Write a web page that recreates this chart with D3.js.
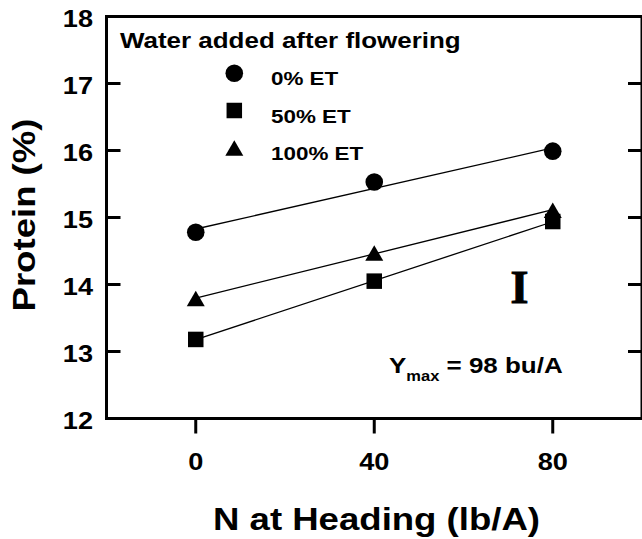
<!DOCTYPE html>
<html>
<head>
<meta charset="utf-8">
<script src="https://cdn.jsdelivr.net/npm/d3@7"></script>
<style>
  html, body { margin: 0; padding: 0; background: #fff; }
  svg { display: block; }
  text { font-family: "Liberation Sans", Arial, sans-serif; font-weight: bold; fill: #000; }
</style>
</head>
<body>
<svg id="chart" width="642" height="539"></svg>
<script>
// ---- data ----
const nRates = [0, 40, 80];
const seriesNames = ["0% ET", "50% ET", "100% ET"];
const protein0 = [14.78, 15.53, 15.99];
const protein50 = [13.18, 14.05, 14.94];
const protein100 = [13.79, 14.47, 15.11];
const xTickValues = [0, 40, 80];
const yTickValues = [12, 13, 14, 15, 16, 17, 18];
const legendTitle = "Water added after flowering";
const xTitle = "N at Heading (lb/A)";
const yTitle = "Protein (%)";
const ymaxLabel = ["Y", "max", " = 98 bu/A"];
const lsdLabel = "I";

// ---- layout ----
const S = 1.18; // horizontal text stretch
const svg = d3.select("#chart");
const x = d3.scaleLinear().domain([-20, 100]).range([106.5, 642]);
const y = d3.scaleLinear().domain([12, 18]).range([418.5, 16.5]);

const series = [
  { name: seriesNames[0], values: protein0, shape: "circle" },
  { name: seriesNames[1], values: protein50, shape: "square" },
  { name: seriesNames[2], values: protein100, shape: "triangle" }
];

function stretchedText(parent, tx, ty, str, size, anchor, rot) {
  const g = parent.append("g")
    .attr("transform", `translate(${tx},${ty})` + (rot ? ` rotate(${rot})` : "") + ` scale(${S},1)`);
  return g.append("text").attr("x", 0).attr("y", 0)
    .attr("font-size", size).attr("text-anchor", anchor || "start").text(str);
}

function drawMarker(g, shape, cx, cy) {
  if (shape === "circle") {
    g.append("circle").attr("cx", cx).attr("cy", cy).attr("r", 8.8).attr("fill", "#000");
  } else if (shape === "square") {
    const s = 15.5;
    g.append("rect").attr("x", cx - s / 2).attr("y", cy - s / 2).attr("width", s).attr("height", s).attr("fill", "#000");
  } else {
    const w = 18, h = 15.5;
    g.append("path").attr("d", `M${cx},${cy - h / 2}L${cx + w / 2},${cy + h / 2}L${cx - w / 2},${cy + h / 2}Z`).attr("fill", "#000");
  }
}

// ---- frame ----
const frame = svg.append("g").attr("stroke", "#000").attr("stroke-width", 3).attr("fill", "none");
frame.append("line").attr("x1", x.range()[0]).attr("x2", x.range()[1] + 2).attr("y1", y(18)).attr("y2", y(18));
frame.append("line").attr("x1", x.range()[0]).attr("x2", x.range()[0]).attr("y1", y(18) - 1.5).attr("y2", y(12) + 1.5);
frame.append("line").attr("x1", x.range()[0] - 1.5).attr("x2", x.range()[1] + 2).attr("y1", y(12)).attr("y2", y(12));
frame.append("line").attr("x1", x.range()[1]).attr("x2", x.range()[1]).attr("y1", y(18)).attr("y2", y(12));

// y ticks (inward, left and right)
const innerY = yTickValues.filter(v => v > 12 && v < 18);
frame.selectAll(".ytl").data(innerY).enter().append("line")
  .attr("x1", x.range()[0]).attr("x2", x.range()[0] + 14)
  .attr("y1", d => y(d)).attr("y2", d => y(d));
frame.selectAll(".ytr").data(innerY).enter().append("line")
  .attr("x1", x.range()[1] - 14).attr("x2", x.range()[1])
  .attr("y1", d => y(d)).attr("y2", d => y(d));
// x ticks (outward, down)
frame.selectAll(".xt").data(xTickValues).enter().append("line")
  .attr("x1", d => x(d)).attr("x2", d => x(d))
  .attr("y1", y(12)).attr("y2", y(12) + 15);

// tick labels
const labels = svg.append("g");
yTickValues.forEach(v => stretchedText(labels, 93, y(v) + 10, String(v), 23, "end"));
xTickValues.forEach(v => stretchedText(labels, x(v), y(12) + 51.5, String(v), 23, "middle"));

// axis titles
stretchedText(svg, 376.5, 530, xTitle, 31, "middle");
stretchedText(svg, 35, 215, yTitle, 31, "middle", -90);

// ---- fitted lines (least squares through each series) ----
function fit(xs, ys) {
  const mx = d3.mean(xs), my = d3.mean(ys);
  const b = d3.sum(xs, (xi, i) => (xi - mx) * (ys[i] - my)) / d3.sum(xs, xi => (xi - mx) ** 2);
  return { a: my - b * mx, b };
}
const lineGen = d3.line().x(d => x(d[0])).y(d => y(d[1]));
const plot = svg.append("g");
series.forEach(s => {
  const f = fit(nRates, s.values);
  const ends = [nRates[0], nRates[nRates.length - 1]].map(v => [v, f.a + f.b * v]);
  plot.append("path").attr("d", lineGen(ends)).attr("stroke", "#000").attr("stroke-width", 1.3).attr("fill", "none");
});
series.forEach(s => {
  s.values.forEach((v, i) => drawMarker(plot, s.shape, x(nRates[i]), y(v)));
});

// ---- legend ----
const legend = svg.append("g");
stretchedText(legend, 120, 48.3, legendTitle, 22, "start");
const legY = [73.3, 110.5, 148];
series.forEach((s, i) => {
  drawMarker(legend, s.shape, 234.3, legY[i]);
  stretchedText(legend, 271, legY[i] + 12, s.name, 19, "start");
});

// ---- annotations ----
svg.append("text").attr("x", 519.5).attr("y", 303)
  .attr("text-anchor", "middle").attr("font-size", 46)
  .attr("stroke", "#000").attr("stroke-width", 1)
  .style("font-family", '"Liberation Serif", "Times New Roman", serif')
  .text(lsdLabel);

const yg = svg.append("g").attr("transform", `translate(389,373) scale(${S},1)`);
const yt = yg.append("text").attr("font-size", 22);
yt.append("tspan").text(ymaxLabel[0]);
yt.append("tspan").attr("font-size", 14).attr("dy", 8).text(ymaxLabel[1]);
yt.append("tspan").attr("dy", -8).text(ymaxLabel[2]);
</script>
</body>
</html>
